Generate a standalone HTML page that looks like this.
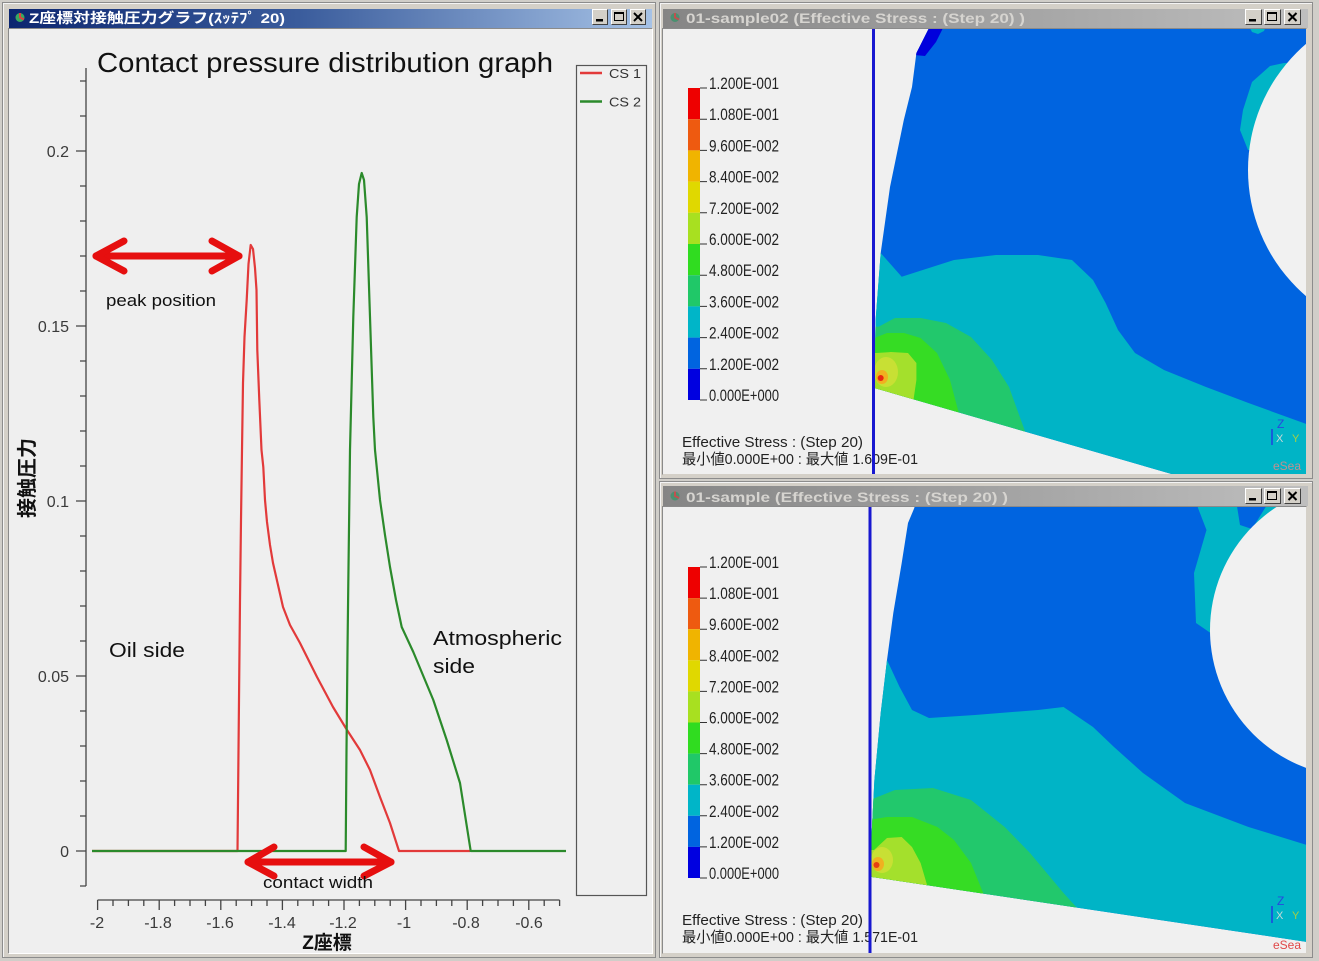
<!DOCTYPE html>
<html><head><meta charset="utf-8"><style>
html,body{margin:0;padding:0;background:#d2d0cb;overflow:hidden}
svg{display:block}
text{font-family:"Liberation Sans","Noto Sans CJK JP",sans-serif}
</style></head><body>
<svg xmlns="http://www.w3.org/2000/svg" width="1319" height="961" viewBox="0 0 1319 961">
<defs>
<linearGradient id="ga" x1="0" x2="1"><stop offset="0" stop-color="#0c2670"/><stop offset="0.45" stop-color="#3a5c9c"/><stop offset="1" stop-color="#a6c2e6"/></linearGradient>
<linearGradient id="gi" x1="0" x2="1"><stop offset="0" stop-color="#858585"/><stop offset="1" stop-color="#bebebe"/></linearGradient>
<clipPath id="vt"><rect x="663" y="29" width="643" height="445"/></clipPath>
<clipPath id="vb"><rect x="663" y="507" width="643" height="446"/></clipPath>
<clipPath id="mt"><polygon points="929,20 929,28 916.4,53 912,87 903.8,120 890,187 880.7,253 875.6,320 874.4,388 1175,475 1320,475 1320,20"/></clipPath>
<clipPath id="mb"><polygon points="916,500 914.3,508 908,523 901.7,563 893.3,613 887,660 880.7,713 874.4,780 871,847 870,873 872,877 1305.6,941.7 1320,944 1320,500"/></clipPath>
</defs>

<rect x="0" y="0" width="1319" height="961" fill="#d0cec9"/>

<!-- LEFT WINDOW -->
<rect x="2.5" y="2.5" width="653" height="955" fill="#d4d0c8" stroke="#8c8c8c"/>
<path d="M3.5 957V3.5H655" stroke="#f4f4f4" fill="none"/>
<rect x="9" y="9" width="643" height="19" fill="url(#ga)"/>
<rect x="9" y="29" width="643" height="924" fill="#efefef"/>
<path d="M8.5 953.5V28.5H652.5" stroke="#8a8a8a" fill="none"/>
<path d="M8.5 953.5H652.5V28.5" stroke="#ffffff" fill="none"/>
<circle cx="20" cy="17.5" r="4.5" fill="#3aa860"/><path d="M20 13v4.5l4 2" stroke="#e04040" stroke-width="2" fill="none"/>
<text x="29" y="23" font-size="14" font-weight="bold" fill="#ffffff" textLength="256" lengthAdjust="spacingAndGlyphs">Z座標対接触圧力グラフ(ｽｯﾃﾌﾟ 20)</text>

<!-- buttons left -->
<g transform="translate(592,9)"><rect width="16" height="16" fill="#d4d0c8"/><path d="M0.5 15.5V0.5H15.5" stroke="#fff" fill="none"/><path d="M0.5 15.5H15.5V0.5" stroke="#404040" fill="none"/><rect x="4" y="10" width="7" height="2.5" fill="#000"/></g>
<g transform="translate(611,9)"><rect width="16" height="16" fill="#d4d0c8"/><path d="M0.5 15.5V0.5H15.5" stroke="#fff" fill="none"/><path d="M0.5 15.5H15.5V0.5" stroke="#404040" fill="none"/><rect x="3.5" y="3.5" width="9" height="8" stroke="#000" fill="none"/><rect x="3" y="3" width="10" height="2" fill="#000"/></g>
<g transform="translate(630,9)"><rect width="16" height="16" fill="#d4d0c8"/><path d="M0.5 15.5V0.5H15.5" stroke="#fff" fill="none"/><path d="M0.5 15.5H15.5V0.5" stroke="#404040" fill="none"/><path d="M4 4L12 12M12 4L4 12" stroke="#000" stroke-width="2"/></g>

<!-- chart title -->
<text x="97" y="72" font-size="28" fill="#111" textLength="456" lengthAdjust="spacingAndGlyphs">Contact pressure distribution graph</text>

<!-- Y axis -->
<g stroke="#444" stroke-width="1.3" fill="none">
<path d="M86 68V886"/>
<path d="M80 886H86M76 851H86M80 816H86M80 781H86M80 746H86M80 711H86M76 676H86M80 641H86M80 606H86M80 571H86M80 536H86M76 501H86M80 466H86M80 431H86M80 396H86M80 361H86M76 326H86M80 291H86M80 256H86M80 221H86M80 186H86M76 151H86M80 116H86M80 81H86"/>
</g>
<g font-size="16" fill="#3a3a3a" text-anchor="end">
<text x="69" y="157">0.2</text>
<text x="69" y="332">0.15</text>
<text x="69" y="507">0.1</text>
<text x="69" y="682">0.05</text>
<text x="69" y="857">0</text>
</g>
<text transform="translate(34,478) rotate(-90)" text-anchor="middle" font-size="20" font-weight="bold" fill="#111">接触圧力</text>

<!-- X axis -->
<g stroke="#444" stroke-width="1.3" fill="none">
<path d="M97.6 900H559.6"/>
<path d="M97.6 900v10M113 900v6M128.4 900v6M143.8 900v6M159.2 900v10M174.6 900v6M190 900v6M205.4 900v6M220.8 900v10M236.2 900v6M251.6 900v6M267 900v6M282.4 900v10M297.8 900v6M313.2 900v6M328.6 900v6M344 900v10M359.4 900v6M374.8 900v6M390.2 900v6M405.6 900v10M421 900v6M436.4 900v6M451.8 900v6M467.2 900v10M482.6 900v6M498 900v6M513.4 900v6M528.8 900v10M544.2 900v6M559.6 900v6"/>
</g>
<g font-size="16" fill="#3a3a3a" text-anchor="middle">
<text x="97" y="928">-2</text>
<text x="158" y="928">-1.8</text>
<text x="220" y="928">-1.6</text>
<text x="282" y="928">-1.4</text>
<text x="343" y="928">-1.2</text>
<text x="404" y="928">-1</text>
<text x="466" y="928">-0.8</text>
<text x="529" y="928">-0.6</text>
</g>
<text x="327" y="949" text-anchor="middle" font-size="19" font-weight="bold" fill="#111">Z座標</text>

<!-- data -->
<path d="M92 851L237.5 851L239 700L240 600L241 520L242 450L243 383L244.5 337L246.7 300L248.5 264L250.7 245L253 249L255 268L256.5 290L257.3 350L259.3 400L261.5 450L263.3 467L265 500L267 522L270 545L273 563L278 585L283 607L290 625L300 643L317 677L333 707L347 730L360 750L370 770L380 797L390 823L399 851L470 851" stroke="#e23a3a" stroke-width="2.2" fill="none" stroke-linejoin="round"/>
<path d="M92 851L345.7 851L346.5 750L347.5 650L348.3 583L350 450L353.3 317L356.7 217L359 184L361.7 173L364 180L366.7 217L370 317L373.3 417L375 450L380 500L385 535L390 567L396 600L401.7 627L413.3 652L433.3 700L446.7 740L460 783L470.7 851L566 851" stroke="#2b8a2b" stroke-width="2.2" fill="none" stroke-linejoin="round"/>

<!-- arrows -->
<g stroke="#e60f0f" stroke-width="7" fill="none" stroke-linecap="round" stroke-linejoin="round">
<path d="M96 256H239"/>
<path d="M124 241L96 256L124 271"/>
<path d="M212 241L239 256L212 271"/>
<path d="M248 862H391"/>
<path d="M274 847L248 862L274 876"/>
<path d="M364 847L391 862L364 876"/>
</g>
<g fill="#111">
<text x="106" y="306" font-size="17" textLength="110" lengthAdjust="spacingAndGlyphs">peak position</text>
<text x="263" y="888" font-size="17" textLength="110" lengthAdjust="spacingAndGlyphs">contact width</text>
<text x="109" y="657" font-size="20" textLength="76" lengthAdjust="spacingAndGlyphs">Oil side</text>
<text x="433" y="645" font-size="20" textLength="129" lengthAdjust="spacingAndGlyphs">Atmospheric</text>
<text x="433" y="673" font-size="20" textLength="42" lengthAdjust="spacingAndGlyphs">side</text>
</g>

<!-- legend -->
<rect x="576.5" y="65.5" width="70" height="830" fill="none" stroke="#555" stroke-width="1.2"/>
<path d="M580 73H602" stroke="#e23a3a" stroke-width="2.5"/>
<path d="M580 101.5H602" stroke="#2b8a2b" stroke-width="2.5"/>
<text x="609" y="78" font-size="13" fill="#333" textLength="32" lengthAdjust="spacingAndGlyphs">CS 1</text>
<text x="609" y="106.5" font-size="13" fill="#333" textLength="32" lengthAdjust="spacingAndGlyphs">CS 2</text>

<!-- RIGHT TOP WINDOW -->
<rect x="659.5" y="2.5" width="653" height="476" fill="#d4d0c8" stroke="#8c8c8c"/>
<path d="M660.5 478V3.5H1312" stroke="#f4f4f4" fill="none"/>
<rect x="663" y="9" width="645" height="19" fill="url(#gi)"/>
<rect x="663" y="29" width="643" height="445" fill="#f0f0f0"/>
<path d="M662.5 474.5V28.5H1306.5" stroke="#8a8a8a" fill="none"/>
<circle cx="675" cy="17.5" r="4.5" fill="#4a9070"/><path d="M675 13v4.5l4 2" stroke="#c05050" stroke-width="2" fill="none"/>
<text x="686" y="23" font-size="14" font-weight="bold" fill="#d6d4d0" textLength="339" lengthAdjust="spacingAndGlyphs">01-sample02 (Effective Stress :  (Step 20) )</text>
<g transform="translate(1245,9)"><rect width="17" height="16" fill="#d4d0c8"/><path d="M0.5 15.5V0.5H16.5" stroke="#fff" fill="none"/><path d="M0.5 15.5H16.5V0.5" stroke="#404040" fill="none"/><rect x="4" y="10" width="7" height="2.5" fill="#000"/></g>
<g transform="translate(1264,9)"><rect width="17" height="16" fill="#d4d0c8"/><path d="M0.5 15.5V0.5H16.5" stroke="#fff" fill="none"/><path d="M0.5 15.5H16.5V0.5" stroke="#404040" fill="none"/><rect x="3.5" y="3.5" width="9" height="8" stroke="#000" fill="none"/><rect x="3" y="3" width="10" height="2" fill="#000"/></g>
<g transform="translate(1284,9)"><rect width="17" height="16" fill="#d4d0c8"/><path d="M0.5 15.5V0.5H16.5" stroke="#fff" fill="none"/><path d="M0.5 15.5H16.5V0.5" stroke="#404040" fill="none"/><path d="M4.5 4L12.5 12M12.5 4L4.5 12" stroke="#000" stroke-width="2"/></g>

<g clip-path="url(#vt)">
 <g clip-path="url(#mt)">
  <rect x="850" y="20" width="470" height="460" fill="#0064e0"/>
  <polygon points="914,55 921,40 928,26 944,26 936,42 925,56" fill="#0000dc"/>
  <polygon points="1249,26 1252,32 1258,34 1264,31 1266,26" fill="#00b4c6"/>
  <polygon points="1284,63 1270,66 1252,82 1243,110 1240,130 1248,150 1262,150 1300,63" fill="#00b4c6"/>
  <polygon points="850,253 880.7,253 901.7,276.7 929,268 954,260 996,255 1038,255 1072,260 1093,280 1105.6,303 1118,330 1135,353 1164,370 1206,387 1248.5,403 1320,429 1320,480 850,480" fill="#00b4c6"/>
  <polygon points="850,327 878.6,326.7 895,318 920.6,318 946,323 971,337 992,360 1009,387 1030,445 850,445" fill="#22c86c"/>
  <polygon points="850,338 874.4,338 887,333 904,333 920.6,338 937,353 950,380 962,425 850,425" fill="#36dc24"/>
  <polygon points="850,353 876.5,353 891,352 908,353 916.4,363 916.4,380 912,410 850,410" fill="#a4e02c"/>
  <ellipse cx="886" cy="372" rx="12" ry="15" fill="#c8e034"/>
  <ellipse cx="882" cy="377" rx="6" ry="7" fill="#f0b020"/>
  <circle cx="880.7" cy="378" r="3" fill="#e82810"/>
 </g>
 <circle cx="1414" cy="170" r="166" fill="#f1f1f1"/>
</g>

<!-- top legend -->
<g>
<rect x="688" y="88" width="12" height="31.2" fill="#ee0000"/>
<rect x="688" y="119.2" width="12" height="31.2" fill="#ee5a10"/>
<rect x="688" y="150.4" width="12" height="31.2" fill="#f0b400"/>
<rect x="688" y="181.6" width="12" height="31.2" fill="#e0d800"/>
<rect x="688" y="212.8" width="12" height="31.2" fill="#a8e020"/>
<rect x="688" y="244" width="12" height="31.2" fill="#30dc20"/>
<rect x="688" y="275.2" width="12" height="31.2" fill="#20c868"/>
<rect x="688" y="306.4" width="12" height="31.2" fill="#00b5c8"/>
<rect x="688" y="337.6" width="12" height="31.2" fill="#0064e0"/>
<rect x="688" y="368.8" width="12" height="31.2" fill="#0000e0"/>
</g>
<path d="M700 88h7M700 119.2h7M700 150.4h7M700 181.6h7M700 212.8h7M700 244h7M700 275.2h7M700 306.4h7M700 337.6h7M700 368.8h7M700 400h7" stroke="#333" stroke-width="1"/>
<g font-size="17" fill="#222">
<text x="709" y="89" textLength="70" lengthAdjust="spacingAndGlyphs">1.200E-001</text>
<text x="709" y="120.2" textLength="70" lengthAdjust="spacingAndGlyphs">1.080E-001</text>
<text x="709" y="151.4" textLength="70" lengthAdjust="spacingAndGlyphs">9.600E-002</text>
<text x="709" y="182.6" textLength="70" lengthAdjust="spacingAndGlyphs">8.400E-002</text>
<text x="709" y="213.8" textLength="70" lengthAdjust="spacingAndGlyphs">7.200E-002</text>
<text x="709" y="245" textLength="70" lengthAdjust="spacingAndGlyphs">6.000E-002</text>
<text x="709" y="276.2" textLength="70" lengthAdjust="spacingAndGlyphs">4.800E-002</text>
<text x="709" y="307.4" textLength="70" lengthAdjust="spacingAndGlyphs">3.600E-002</text>
<text x="709" y="338.6" textLength="70" lengthAdjust="spacingAndGlyphs">2.400E-002</text>
<text x="709" y="369.8" textLength="70" lengthAdjust="spacingAndGlyphs">1.200E-002</text>
<text x="709" y="401" textLength="70" lengthAdjust="spacingAndGlyphs">0.000E+000</text>
</g>
<text x="682" y="447" font-size="15" fill="#222" textLength="181" lengthAdjust="spacingAndGlyphs">Effective Stress :  (Step 20)</text>
<text x="682" y="464" font-size="15" fill="#222" textLength="236" lengthAdjust="spacingAndGlyphs">最小値0.000E+00 : 最大値 1.609E-01</text>
<path d="M873.5 29V474" stroke="#1818d0" stroke-width="3"/>
<path d="M1272 445V429" stroke="#2040e0" stroke-width="1.5"/>
<text x="1277" y="428" font-size="12" fill="#2848e0">Z</text>
<text x="1276" y="442" font-size="11" fill="#c8d8d8">X</text>
<text x="1292" y="442" font-size="11" fill="#a8d040">Y</text>
<text x="1273" y="470" font-size="12" fill="#c09090">eSea</text>

<!-- RIGHT BOTTOM WINDOW -->
<rect x="659.5" y="481.5" width="653" height="476" fill="#d4d0c8" stroke="#8c8c8c"/>
<path d="M660.5 957V482.5H1312" stroke="#f4f4f4" fill="none"/>
<rect x="663" y="486" width="645" height="20" fill="url(#gi)"/>
<rect x="663" y="507" width="643" height="446" fill="#f0f0f0"/>
<path d="M662.5 953.5V506.5H1306.5" stroke="#8a8a8a" fill="none"/>
<circle cx="675" cy="496" r="4.5" fill="#4a9070"/><path d="M675 491.5v4.5l4 2" stroke="#c05050" stroke-width="2" fill="none"/>
<text x="686" y="502" font-size="14" font-weight="bold" fill="#d6d4d0" textLength="322" lengthAdjust="spacingAndGlyphs">01-sample (Effective Stress :  (Step 20) )</text>
<g transform="translate(1245,488)"><rect width="17" height="16" fill="#d4d0c8"/><path d="M0.5 15.5V0.5H16.5" stroke="#fff" fill="none"/><path d="M0.5 15.5H16.5V0.5" stroke="#404040" fill="none"/><rect x="4" y="10" width="7" height="2.5" fill="#000"/></g>
<g transform="translate(1264,488)"><rect width="17" height="16" fill="#d4d0c8"/><path d="M0.5 15.5V0.5H16.5" stroke="#fff" fill="none"/><path d="M0.5 15.5H16.5V0.5" stroke="#404040" fill="none"/><rect x="3.5" y="3.5" width="9" height="8" stroke="#000" fill="none"/><rect x="3" y="3" width="10" height="2" fill="#000"/></g>
<g transform="translate(1284,488)"><rect width="17" height="16" fill="#d4d0c8"/><path d="M0.5 15.5V0.5H16.5" stroke="#fff" fill="none"/><path d="M0.5 15.5H16.5V0.5" stroke="#404040" fill="none"/><path d="M4.5 4L12.5 12M12.5 4L4.5 12" stroke="#000" stroke-width="2"/></g>

<g clip-path="url(#vb)">
 <g clip-path="url(#mb)">
  <rect x="850" y="500" width="470" height="460" fill="#0064e0"/>
  <polygon points="1196,500 1198,508 1206.5,530 1194,573 1196,623 1212,634 1310,634 1310,500" fill="#00b4c6"/>
  <polygon points="1236,500 1240,525 1252,529 1270,500" fill="#0064e0"/>
  <polygon points="850,660 887,660 899.6,687 912,710 929,718 975,715 1038,710 1063.5,707 1093,727 1114,747 1143,773 1185,803 1248.5,827 1320,849 1320,960 850,960" fill="#00b4c6"/>
  <polygon points="850,800 870,800 895,790 933,788 971,800 1004.7,827 1030,853 1063.5,893 1088,920 850,920" fill="#22c86c"/>
  <polygon points="850,823 887,817 912,817 937.4,827 954,840 971,863 988,905 850,905" fill="#36dc24"/>
  <polygon points="850,850 874,850 887,838 901.7,837 912,847 920.6,863 930,895 850,895" fill="#a4e02c"/>
  <ellipse cx="882" cy="860" rx="11" ry="13" fill="#c8e034"/>
  <ellipse cx="878" cy="864" rx="6" ry="7" fill="#f0b020"/>
  <circle cx="876.5" cy="865" r="3" fill="#e84010"/>
 </g>
 <circle cx="1357" cy="630" r="147" fill="#f1f1f1"/>
</g>

<g>
<rect x="688" y="567" width="12" height="31.1" fill="#ee0000"/>
<rect x="688" y="598.1" width="12" height="31.1" fill="#ee5a10"/>
<rect x="688" y="629.2" width="12" height="31.1" fill="#f0b400"/>
<rect x="688" y="660.3" width="12" height="31.1" fill="#e0d800"/>
<rect x="688" y="691.4" width="12" height="31.1" fill="#a8e020"/>
<rect x="688" y="722.5" width="12" height="31.1" fill="#30dc20"/>
<rect x="688" y="753.6" width="12" height="31.1" fill="#20c868"/>
<rect x="688" y="784.7" width="12" height="31.1" fill="#00b5c8"/>
<rect x="688" y="815.8" width="12" height="31.1" fill="#0064e0"/>
<rect x="688" y="846.9" width="12" height="31.1" fill="#0000e0"/>
</g>
<path d="M700 567h7M700 598.1h7M700 629.2h7M700 660.3h7M700 691.4h7M700 722.5h7M700 753.6h7M700 784.7h7M700 815.8h7M700 846.9h7M700 878h7" stroke="#333" stroke-width="1"/>
<g font-size="17" fill="#222">
<text x="709" y="568" textLength="70" lengthAdjust="spacingAndGlyphs">1.200E-001</text>
<text x="709" y="599.1" textLength="70" lengthAdjust="spacingAndGlyphs">1.080E-001</text>
<text x="709" y="630.2" textLength="70" lengthAdjust="spacingAndGlyphs">9.600E-002</text>
<text x="709" y="661.3" textLength="70" lengthAdjust="spacingAndGlyphs">8.400E-002</text>
<text x="709" y="692.4" textLength="70" lengthAdjust="spacingAndGlyphs">7.200E-002</text>
<text x="709" y="723.5" textLength="70" lengthAdjust="spacingAndGlyphs">6.000E-002</text>
<text x="709" y="754.6" textLength="70" lengthAdjust="spacingAndGlyphs">4.800E-002</text>
<text x="709" y="785.7" textLength="70" lengthAdjust="spacingAndGlyphs">3.600E-002</text>
<text x="709" y="816.8" textLength="70" lengthAdjust="spacingAndGlyphs">2.400E-002</text>
<text x="709" y="847.9" textLength="70" lengthAdjust="spacingAndGlyphs">1.200E-002</text>
<text x="709" y="879" textLength="70" lengthAdjust="spacingAndGlyphs">0.000E+000</text>
</g>
<text x="682" y="925" font-size="15" fill="#222" textLength="181" lengthAdjust="spacingAndGlyphs">Effective Stress :  (Step 20)</text>
<text x="682" y="942" font-size="15" fill="#222" textLength="236" lengthAdjust="spacingAndGlyphs">最小値0.000E+00 : 最大値 1.571E-01</text>
<path d="M870 507V953" stroke="#1818d0" stroke-width="3"/>
<path d="M1272 923V906" stroke="#2040e0" stroke-width="1.5"/>
<text x="1277" y="905" font-size="12" fill="#2848e0">Z</text>
<text x="1276" y="919" font-size="11" fill="#c8d8d8">X</text>
<text x="1292" y="919" font-size="11" fill="#a8d040">Y</text>
<text x="1273" y="949" font-size="12" fill="#e04848">eSea</text>
</svg>
</body></html>
